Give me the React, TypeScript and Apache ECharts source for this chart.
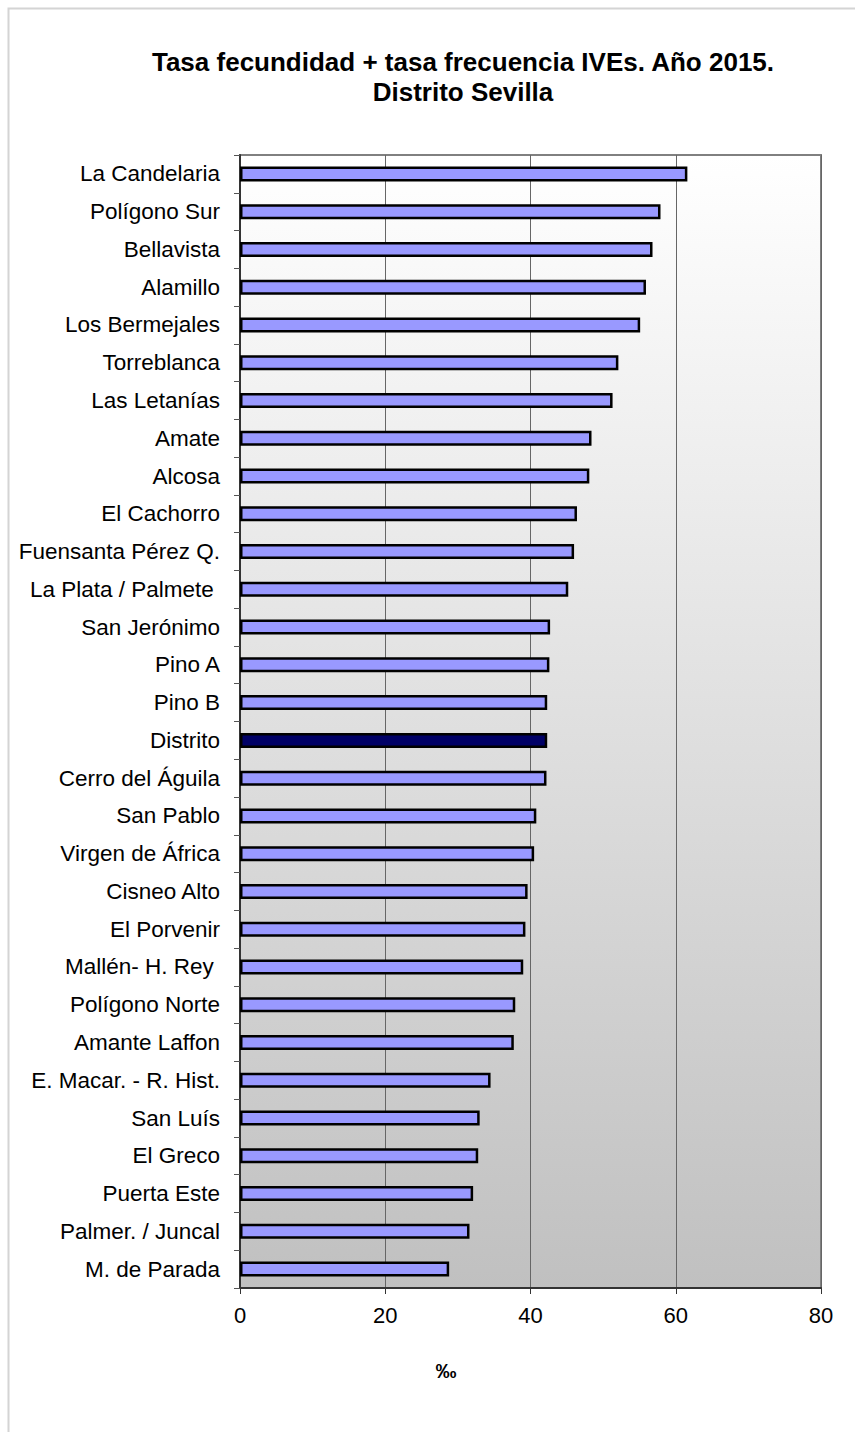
import React, { useEffect, useRef } from "react";
import * as echarts from "echarts";

const categories: string[] = [
  "La Candelaria",
  "Polígono Sur",
  "Bellavista",
  "Alamillo",
  "Los Bermejales",
  "Torreblanca",
  "Las Letanías",
  "Amate",
  "Alcosa",
  "El Cachorro",
  "Fuensanta Pérez Q.",
  "La Plata / Palmete ",
  "San Jerónimo",
  "Pino A",
  "Pino B",
  "Distrito",
  "Cerro del Águila",
  "San Pablo",
  "Virgen de África",
  "Cisneo Alto",
  "El Porvenir",
  "Mallén- H. Rey ",
  "Polígono Norte",
  "Amante Laffon",
  "E. Macar. - R. Hist.",
  "San Luís",
  "El Greco",
  "Puerta Este",
  "Palmer. / Juncal",
  "M. de Parada",
];

const values: number[] = [
  61.6, 57.9, 56.8, 55.9, 55.1, 52.1, 51.3, 48.4, 48.1, 46.4, 46.0, 45.2,
  42.7, 42.6, 42.3, 42.3, 42.2, 40.8, 40.5, 39.6, 39.3, 39.0, 37.9, 37.7,
  34.5, 33.0, 32.8, 32.1, 31.6, 28.8,
];

const highlighted: string[] = ["Distrito"];

const xTicks = { min: 0, max: 80, interval: 20 };

const titleText = "Tasa fecundidad + tasa frecuencia IVEs. Año 2015.\nDistrito Sevilla";
const unitText = "‰";

const FONT = "'Liberation Sans', Arial, sans-serif";

export default function App() {
  const ref = useRef<HTMLDivElement>(null);

  useEffect(() => {
    document.body.style.margin = "0";
    if (!ref.current) return;
    const chart = echarts.init(ref.current, undefined, { renderer: "svg" });

    const data = values.map((v, i) => ({
      value: v,
      itemStyle: {
        color: highlighted.includes(categories[i]) ? "#000066" : "#9999ff",
      },
    }));

    chart.setOption({
      animation: false,
      backgroundColor: "#ffffff",
      title: {
        text: titleText,
        left: 458,
        top: 42,
        textAlign: "center",
        textStyle: {
          fontFamily: FONT,
          fontSize: 26,
          fontWeight: "bold",
          lineHeight: 30,
          color: "#000",
        },
      },
      grid: {
        left: 240,
        right: 34,
        top: 155,
        bottom: 144,
        show: true,
        borderColor: "#808080",
        borderWidth: 2,
        backgroundColor: new echarts.graphic.LinearGradient(0, 0, 0, 1, [
          { offset: 0, color: "#ffffff" },
          { offset: 1, color: "#c0c0c0" },
        ]),
      },
      xAxis: {
        type: "value",
        min: xTicks.min,
        max: xTicks.max,
        interval: xTicks.interval,
        axisLine: { show: true, lineStyle: { color: "#333", width: 2 } },
        axisTick: { show: true, length: 6, lineStyle: { color: "#333" } },
        axisLabel: {
          fontFamily: FONT,
          fontSize: 22,
          color: "#000",
          margin: 16,
        },
        splitLine: { show: true, lineStyle: { color: "#666", width: 1 } },
      },
      yAxis: {
        type: "category",
        data: categories,
        inverse: true,
        axisLine: { show: true, lineStyle: { color: "#333", width: 2 } },
        axisTick: {
          show: true,
          length: 6,
          alignWithLabel: false,
          lineStyle: { color: "#555" },
        },
        axisLabel: {
          fontFamily: FONT,
          fontSize: 22.5,
          color: "#000",
          margin: 20,
        },
        splitLine: { show: false },
      },
      series: [
        {
          type: "bar",
          data,
          barWidth: 15,
          itemStyle: { borderColor: "#000", borderWidth: 2.5 },
        },
      ],
      graphic: [
        {
          type: "rect",
          z: -10,
          silent: true,
          shape: { x: 8.5, y: 8.5, width: 900, height: 1500 },
          style: { fill: "none", stroke: "#d4d4d4", lineWidth: 2 },
        },
        {
          type: "text",
          x: 446,
          y: 1370,
          style: {
            text: unitText,
            font: `bold 21px ${FONT}`,
            fill: "#000",
            align: "center",
            verticalAlign: "middle",
          },
        },
      ],
    });

    return () => {
      chart.dispose();
    };
  }, []);

  return <div ref={ref} style={{ width: 855, height: 1432 }} />;
}
